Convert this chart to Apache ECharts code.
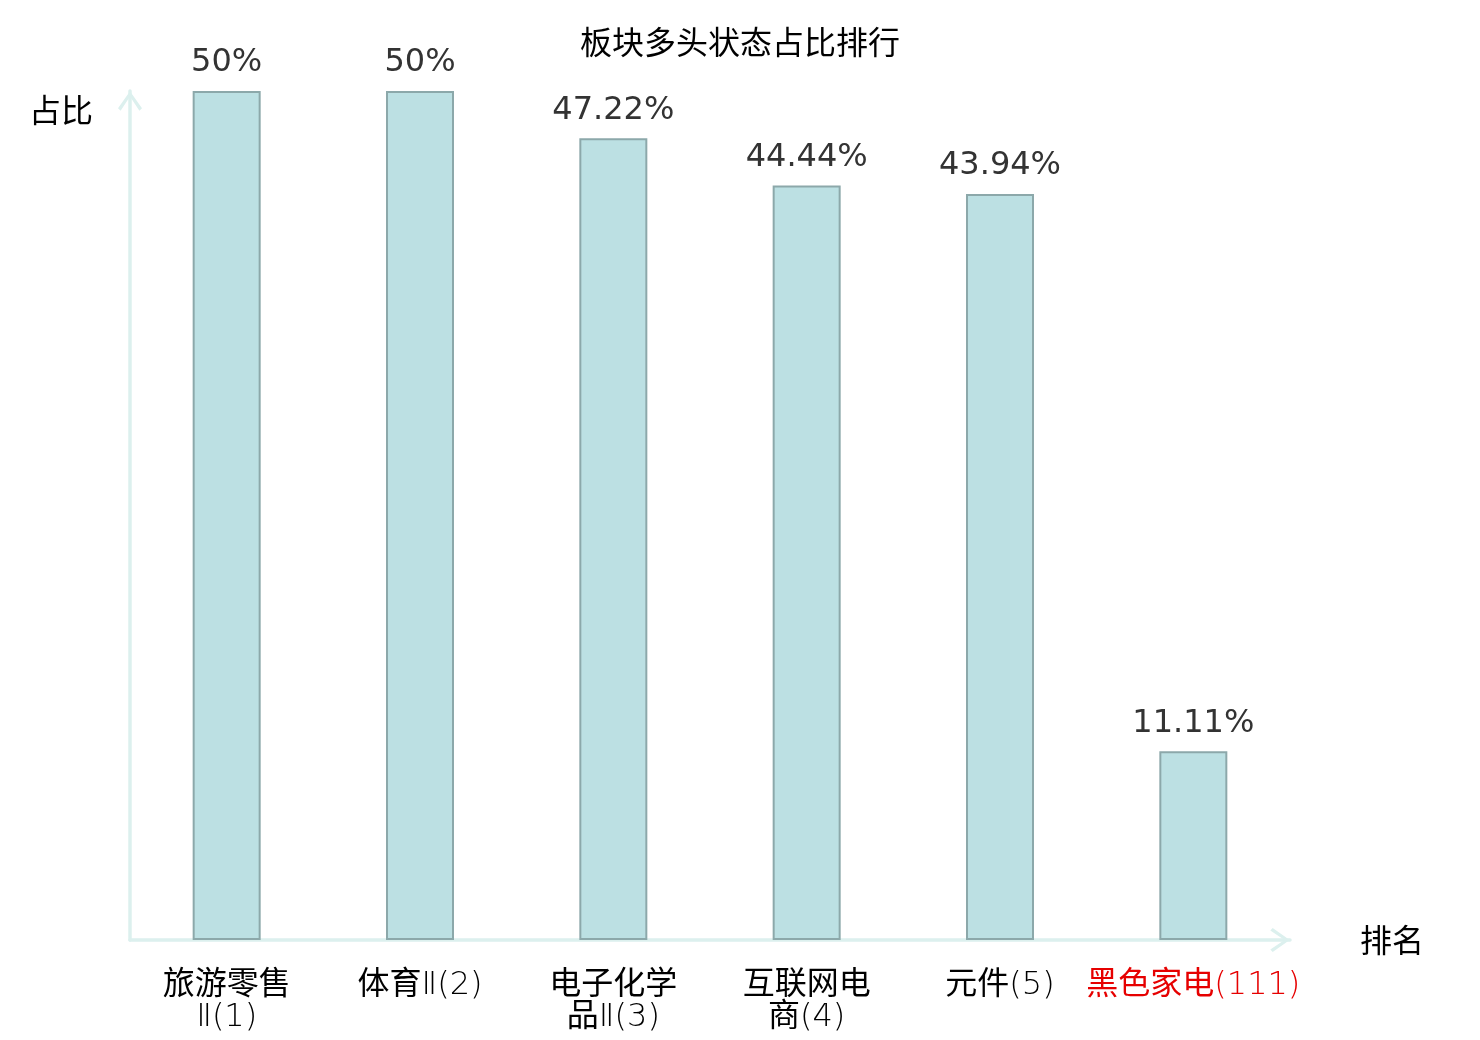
<!DOCTYPE html>
<html>
<head>
<meta charset="utf-8">
<title>板块多头状态占比排行</title>
<script src="https://cdn.jsdelivr.net/npm/echarts@6/dist/echarts.min.js"></script>
<style>
  html, body { margin: 0; padding: 0; background: #fff; }
  #chart { width: 1480px; height: 1040px; }
</style>
</head>
<body>
<div id="chart"></div>
<script>
// data
const sectorNames = ['旅游零售Ⅱ', '体育Ⅱ', '电子化学品Ⅱ', '互联网电商', '元件', '黑色家电'];
const sectorRanks = [1, 2, 3, 4, 5, 111];
const bullShare = [50, 50, 47.22, 44.44, 43.94, 11.11];

const categories = sectorNames.map((n, i) => n + '(' + sectorRanks[i] + ')');

// split the name part every 4 chars, keep the rank with the last chunk
function wrapName(name) {
    const parts = [];
    for (let i = 0; i < name.length; i += 4) parts.push(name.slice(i, i + 4));
    return parts;
}

// cut a line into CJK / latin runs so each gets its own rich style
function richLine(line, red) {
    let out = '', run = '', runType = null;
    const flush = () => {
        if (run) out += '{' + runType + (red ? 'R' : '') + '|' + run + '}';
        run = '';
    };
    for (const ch of line) {
        const t = ch.charCodeAt(0) >= 0x2e80 ? 'cn' : 'lt';
        if (t !== runType) { flush(); runType = t; }
        run += ch;
    }
    flush();
    return out;
}

const chevron = 'path://M12,0 L24,17 L21.4,19.4 L12,5.2 L2.6,19.4 L0,17 Z';
const axisColor = '#dcf0ee';
const cnStyle = { fontSize: 32, lineHeight: 32, fontFamily: 'Noto Sans CJK SC', fontWeight: 'normal' };
// latin bits are thin and sit a touch lower than the CJK glyphs
const ltStyle = { fontSize: 32, lineHeight: 32, fontFamily: 'DejaVu Sans', fontWeight: 200, padding: [8, 0, 0, 0] };
const labelRed = '#e60000';

const chart = echarts.init(document.getElementById('chart'));

chart.setOption({
    backgroundColor: '#fff',
    title: {
        text: '板块多头状态占比排行',
        left: 'center',
        top: 21,
        textStyle: {
            fontSize: 32,
            fontWeight: 'normal',
            color: '#000',
            fontFamily: 'Noto Sans CJK SC'
        }
    },
    grid: { left: 130, right: 190, top: 91, bottom: 100 },
    xAxis: {
        type: 'category',
        data: categories,
        name: '排名',
        nameLocation: 'end',
        nameGap: 70,
        nameTextStyle: { fontSize: 32, color: '#000', fontFamily: 'Noto Sans CJK SC' },
        axisLine: {
            lineStyle: { color: axisColor, width: 3.5 },
            symbol: ['none', chevron],
            symbolSize: [24, 20],
            symbolOffset: [0, -10]
        },
        axisTick: { show: false },
        axisLabel: {
            interval: 0,
            margin: 26,
            fontSize: 32,
            lineHeight: 32,
            color: '#000',
            formatter: (value, idx) => {
                const red = idx === sectorNames.length - 1;
                const lines = wrapName(sectorNames[idx]);
                lines[lines.length - 1] += '(' + sectorRanks[idx] + ')';
                return lines.map(l => richLine(l, red)).join('\n');
            },
            rich: {
                cn: Object.assign({ color: '#000' }, cnStyle),
                lt: Object.assign({ color: '#000' }, ltStyle),
                cnR: Object.assign({ color: labelRed }, cnStyle),
                ltR: Object.assign({ color: labelRed }, ltStyle)
            }
        }
    },
    yAxis: {
        type: 'value',
        min: 0,
        max: 50,
        name: '占比',
        nameLocation: 'end',
        nameGap: -19,
        nameTextStyle: {
            fontSize: 32,
            color: '#000',
            align: 'right',
            verticalAlign: 'middle',
            padding: [0, 37, 0, 0],
            fontFamily: 'Noto Sans CJK SC'
        },
        axisLine: {
            show: true,
            lineStyle: { color: axisColor, width: 3.5 },
            symbol: ['none', chevron],
            symbolSize: [24, 20],
            symbolOffset: [0, -10]
        },
        axisTick: { show: false },
        axisLabel: { show: false },
        splitLine: { show: false }
    },
    series: [{
        type: 'bar',
        data: bullShare,
        barWidth: 68,
        itemStyle: {
            color: '#bce0e3',
            borderColor: '#8ca8aa',
            borderWidth: 2
        },
        label: {
            show: true,
            position: 'top',
            distance: 12,
            fontSize: 32,
            color: '#333',
            fontFamily: 'DejaVu Sans',
            formatter: '{c}%'
        }
    }]
});

window.addEventListener('resize', () => chart.resize());
</script>
</body>
</html>
